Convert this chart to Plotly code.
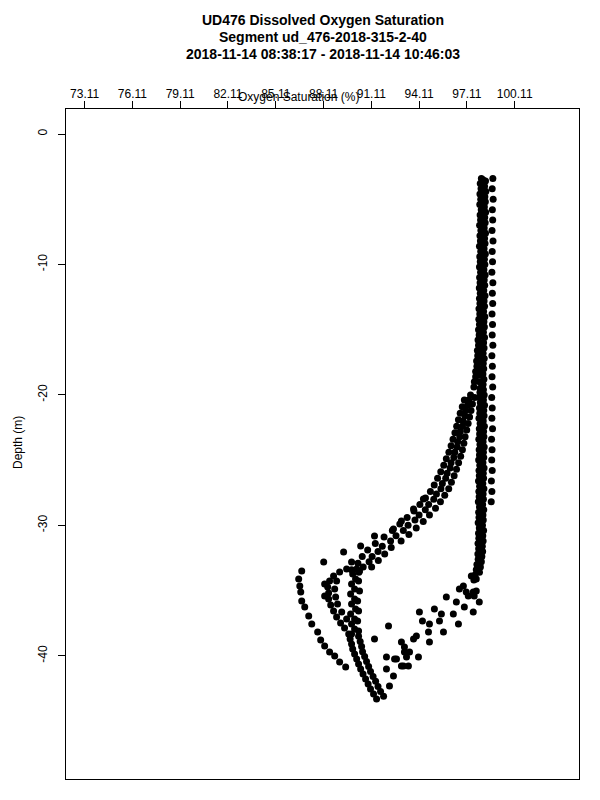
import plotly.graph_objects as go

# ---------------- data ----------------
x_tick_vals = [73.11, 76.11, 79.11, 82.11, 85.11, 88.11, 91.11, 94.11, 97.11, 100.11]
x_tick_text = ["73.11", "76.11", "79.11", "82.11", "85.11", "88.11", "91.11", "94.11", "97.11", "100.11"]
y_tick_vals = [0, -10, -20, -30, -40]
y_tick_text = ["0", "-10", "-20", "-30", "-40"]

# upper column, left part
col_a_depth = [-3.4, -3.8, -4.2, -4.6, -5.0, -5.4, -5.8, -6.2, -6.6, -7.0, -7.4, -7.8, -8.2, -8.6,
               -9.0, -9.4, -9.8, -10.2, -10.6, -11.0, -11.4, -11.8, -12.2, -12.6, -13.0, -13.4,
               -13.8, -14.2, -14.6, -15.0, -15.4, -15.8, -16.2, -16.6, -17.0, -17.4, -17.8,
               -18.2, -18.6, -19.0, -19.4]
col_a_oxy = [98.02, 97.95, 98.00, 97.93, 97.98, 97.92, 98.01, 97.94, 97.97, 97.91, 97.99, 97.93,
             97.96, 97.90, 97.98, 97.92, 97.95, 97.90, 97.97, 97.91, 97.94, 97.89, 97.95, 97.90,
             97.93, 97.87, 97.92, 97.86, 97.90, 97.84, 97.88, 97.81, 97.84, 97.77, 97.79, 97.72,
             97.74, 97.66, 97.66, 97.58, 97.55]

# upper column, right part
col_b_depth = [-3.6, -4.0, -4.4, -4.8, -5.2, -5.6, -6.0, -6.4, -6.8, -7.2, -7.6, -8.0, -8.4, -8.8,
               -9.2, -9.6, -10.0, -10.4, -10.8, -11.2, -11.6, -12.0, -12.4, -12.8, -13.2, -13.6,
               -14.0, -14.4, -14.8, -15.2, -15.6, -16.0, -16.4, -16.8, -17.2, -17.6, -18.0,
               -18.4, -18.8, -19.2, -19.6]
col_b_oxy = [98.28, 98.22, 98.30, 98.24, 98.27, 98.21, 98.29, 98.23, 98.26, 98.20, 98.28, 98.22,
             98.25, 98.19, 98.27, 98.21, 98.24, 98.18, 98.26, 98.20, 98.23, 98.17, 98.25, 98.19,
             98.22, 98.16, 98.24, 98.18, 98.21, 98.15, 98.22, 98.16, 98.19, 98.13, 98.20, 98.14,
             98.17, 98.12, 98.18, 98.13, 98.15]

# upper column, middle
col_c_depth = [-3.5, -4.0, -4.5, -5.0, -5.5, -6.0, -6.5, -7.0, -7.5, -8.0, -8.5, -9.0, -9.5, -10.0,
               -10.5, -11.0, -11.5, -12.0, -12.5, -13.0, -13.5, -14.0, -14.5, -15.0, -15.5, -16.0,
               -16.5, -17.0, -17.5, -18.0, -18.5, -19.0, -19.5]
col_c_oxy = [98.12, 98.08, 98.14, 98.07, 98.11, 98.06, 98.13, 98.09, 98.10, 98.05, 98.12, 98.07,
             98.10, 98.04, 98.11, 98.06, 98.09, 98.03, 98.08, 98.04, 98.07, 98.01, 98.06, 98.00,
             98.04, 97.97, 98.02, 97.95, 98.00, 97.92, 97.97, 97.90, 97.94]

# sparse right-edge samples
edge_depth = [-3.4, -4.2, -5.0, -5.8, -6.6, -7.4, -8.2, -9.0, -9.8, -10.6, -11.4, -12.2, -13.0,
              -13.8, -14.6, -15.4, -16.2, -17.0, -17.8, -18.6, -19.4, -20.2, -21.0, -21.8, -22.6,
              -23.4, -24.2, -25.0, -25.8, -26.6, -27.4, -28.2]
edge_oxy = [98.74, 98.70, 98.76, 98.71, 98.73, 98.69, 98.75, 98.70, 98.72, 98.68, 98.74, 98.71,
            98.73, 98.69, 98.72, 98.70, 98.74, 98.68, 98.71, 98.69, 98.73, 98.67, 98.70, 98.68,
            98.72, 98.66, 98.69, 98.67, 98.70, 98.65, 98.68, 98.64]

# lower column (stays near saturation down to ~34 m)
rcol_a_depth = [-19.8, -20.2, -20.6, -21.0, -21.4, -21.8, -22.2, -22.6, -23.0, -23.4, -23.8, -24.2,
                -24.6, -25.0, -25.4, -25.8, -26.2, -26.6, -27.0, -27.4, -27.8, -28.2, -28.6, -29.0,
                -29.4, -29.8, -30.2, -30.6, -31.0, -31.4, -31.8, -32.2, -32.6, -33.0, -33.4,
                -33.8, -34.2]
rcol_a_oxy = [97.93, 97.88, 97.95, 97.90, 97.92, 97.87, 97.94, 97.89, 97.91, 97.86, 97.93, 97.88,
              97.90, 97.85, 97.92, 97.87, 97.89, 97.84, 97.91, 97.86, 97.88, 97.83, 97.90, 97.85,
              97.87, 97.82, 97.89, 97.84, 97.86, 97.81, 97.85, 97.80, 97.82, 97.74, 97.70, 97.62,
              97.55]
rcol_b_depth = [-20.0, -20.4, -20.8, -21.2, -21.6, -22.0, -22.4, -22.8, -23.2, -23.6, -24.0, -24.4,
                -24.8, -25.2, -25.6, -26.0, -26.4, -26.8, -27.2, -27.6, -28.0, -28.4, -28.8, -29.2,
                -29.6, -30.0, -30.4, -30.8, -31.2, -31.6, -32.0, -32.4, -32.8, -33.2, -33.6]
rcol_b_oxy = [98.20, 98.15, 98.22, 98.17, 98.19, 98.14, 98.21, 98.16, 98.18, 98.13, 98.20, 98.15,
              98.17, 98.12, 98.19, 98.14, 98.16, 98.11, 98.18, 98.13, 98.15, 98.10, 98.17, 98.12,
              98.14, 98.09, 98.16, 98.11, 98.13, 98.08, 98.10, 98.05, 98.02, 97.96, 97.90]

# band bending to lower saturation (middle line)
band_mid_depth = [-20.0, -20.4, -20.8, -21.2, -21.6, -22.0, -22.4, -22.8, -23.2, -23.6, -24.0,
                  -24.4, -24.8, -25.2, -25.6, -26.0, -26.4, -26.8, -27.2, -27.6, -28.0, -28.4,
                  -28.8, -29.2, -29.6, -30.0, -30.4, -30.8, -31.2, -31.6, -32.0, -32.4, -32.8,
                  -33.2, -33.6]
band_mid_oxy = [97.34, 97.22, 97.16, 97.03, 96.99, 96.87, 96.83, 96.70, 96.66, 96.53, 96.50,
                96.35, 96.29, 96.12, 96.06, 95.87, 95.78, 95.57, 95.48, 95.20, 95.03, 94.71,
                94.50, 94.11, 93.85, 93.42, 93.12, 92.66, 92.32, 91.80, 91.53, 91.16, 90.97,
                90.60, 90.33]

band_in_depth = [-20.2, -20.7, -21.2, -21.7, -22.2, -22.7, -23.2, -23.7, -24.2, -24.7, -25.2,
                 -25.7, -26.2, -26.7, -27.2, -27.7, -28.2, -28.7, -29.2, -29.7, -30.2, -30.7,
                 -31.2, -31.7, -32.2, -32.7, -33.2]
band_in_oxy = [97.60, 97.46, 97.37, 97.28, 97.19, 97.10, 97.00, 96.92, 96.83, 96.72, 96.59,
               96.46, 96.31, 96.14, 95.97, 95.72, 95.45, 95.14, 94.76, 94.37, 93.93, 93.47,
               92.98, 92.36, 91.95, 91.55, 91.13]

band_out_depth = [-20.4, -20.9, -21.4, -21.9, -22.4, -22.9, -23.4, -23.9, -24.4, -24.9, -25.4,
                  -25.9, -26.4, -26.9, -27.4, -27.9, -28.4, -28.9, -29.4, -29.9, -30.4, -30.9,
                  -31.4, -31.9, -32.4, -32.9, -33.4]
band_out_oxy = [96.95, 96.82, 96.69, 96.58, 96.47, 96.36, 96.24, 96.12, 95.98, 95.82, 95.66,
                95.47, 95.27, 95.06, 94.82, 94.51, 94.16, 93.79, 93.36, 92.90, 92.43, 91.91,
                91.36, 90.88, 90.54, 90.27, 89.87]

# hook on the low-saturation side
hook_depth = [-33.35, -33.58, -33.89, -34.27, -34.73, -35.19, -35.65, -36.11, -36.57, -37.03,
              -37.49, -37.87, -34.27, -34.88, -35.49, -36.03, -36.65, -37.18, -34.50, -35.42]
hook_oxy = [89.56, 89.12, 88.74, 88.49, 88.37, 88.43, 88.43, 88.56, 88.74, 88.93,
            89.18, 89.43, 88.93, 88.81, 88.87, 88.99, 89.25, 89.56, 88.18, 88.18]

# vertical part of the band below the hook
stem_depth = [-33.35, -33.73, -34.12, -34.50, -34.88, -35.27, -35.65, -36.03, -36.42, -36.80,
              -37.18, -37.56, -37.95, -38.33, -33.50, -34.27, -35.04, -35.80, -36.57, -37.34,
              -38.10]
stem_oxy = [90.19, 89.94, 90.12, 89.87, 90.06, 89.81, 90.06, 89.87, 90.12, 89.81,
            90.06, 89.87, 90.06, 89.87, 90.37, 90.31, 90.37, 90.25, 90.31, 90.25, 90.31]

# lower band down to the deepest samples
low_left_depth = [-38.33, -38.72, -39.10, -39.48, -39.86, -40.25, -40.63, -41.01, -41.39, -41.78,
                  -42.16, -42.55, -42.93, -43.31]
low_left_oxy = [89.69, 89.78, 89.87, 89.94, 90.06, 90.19, 90.31, 90.44, 90.59, 90.75,
                90.91, 91.06, 91.25, 91.44]
low_right_depth = [-38.50, -38.90, -39.30, -39.70, -40.05, -40.45, -40.82, -41.20, -41.60, -41.95,
                   -42.35, -42.75, -43.10]
low_right_oxy = [90.31, 90.41, 90.50, 90.56, 90.69, 90.81, 90.94, 91.06, 91.22, 91.38,
                 91.53, 91.69, 91.88]

# sparse outer cast
outer_depth = [-27.98, -28.75, -29.67, -30.28, -30.82, -31.59, -32.05, -32.81, -33.50, -34.12,
               -34.65, -35.12, -35.80, -36.26, -36.95, -37.56, -38.18, -38.79, -39.26, -39.71,
               -40.02, -40.48, -40.87, -32.81]
outer_oxy = [94.38, 93.76, 93.00, 92.50, 91.31, 90.44, 89.37, 88.12, 86.74, 86.55,
             86.62, 86.68, 86.74, 86.93, 87.18, 87.37, 87.74, 87.93, 88.18, 88.49,
             88.81, 89.12, 89.50, 89.87]

# scattered return branch towards the saturated column
return_depth = [-42.32, -41.55, -41.01, -40.79, -40.79, -40.79, -40.25, -40.25, -40.09, -40.09,
                -40.09, -39.71, -39.71, -39.33, -38.95, -38.95, -38.72, -38.72, -38.49, -38.18,
                -38.18, -37.72, -37.56, -37.56, -37.34, -37.34, -36.80, -36.80, -36.65, -36.42,
                -35.88, -35.49, -34.12, -33.89, -34.65, -34.88, -35.42, -35.42, -35.04, -35.12,
                -35.12, -35.88, -36.26, -36.65]
return_oxy = [92.25, 92.50, 92.06, 93.00, 93.13, 93.44, 92.57, 92.69, 92.06, 93.32,
              94.07, 93.19, 93.51, 93.19, 93.00, 94.76, 93.76, 91.31, 93.94, 94.70,
              95.64, 92.19, 94.76, 96.58, 94.32, 95.39, 95.51, 96.26, 94.13, 95.07,
              96.45, 95.82, 97.70, 97.39, 96.89, 96.64, 97.20, 97.57, 97.70, 97.07,
              97.51, 97.89, 96.95, 97.51]

series = [
    (col_a_oxy, col_a_depth), (col_b_oxy, col_b_depth), (col_c_oxy, col_c_depth),
    (edge_oxy, edge_depth), (rcol_a_oxy, rcol_a_depth), (rcol_b_oxy, rcol_b_depth),
    (band_mid_oxy, band_mid_depth), (band_in_oxy, band_in_depth), (band_out_oxy, band_out_depth),
    (hook_oxy, hook_depth), (stem_oxy, stem_depth), (low_left_oxy, low_left_depth),
    (low_right_oxy, low_right_depth), (outer_oxy, outer_depth), (return_oxy, return_depth),
]

# ---------------- figure ----------------
FONT = "Liberation Sans, Arial, Helvetica, sans-serif"
fig = go.Figure()
for ox, dp in series:
    fig.add_trace(go.Scatter(x=ox, y=dp, mode="markers",
                             marker=dict(color="black", size=7, line=dict(width=0)),
                             showlegend=False, hoverinfo="skip"))

L, R, T, B = 58, 29, 101, 29
W, H = 600, 800
pw, ph = W - L - R, H - T - B

def px_x(px):
    return (px - L) / pw

def px_y(py):
    return (H - B - py) / ph

fig.update_layout(
    width=W, height=H,
    margin=dict(l=L, r=R, t=T, b=B, autoexpand=False),
    paper_bgcolor="white", plot_bgcolor="white",
    font=dict(family=FONT, size=12, color="black"),
    xaxis=dict(range=[71.94, 104.15], side="top", tickvals=x_tick_vals, ticktext=x_tick_text,
               ticks="outside", ticklen=7, tickwidth=1, tickcolor="black", automargin=False,
               ticklabelstandoff=-2,
               showline=True, linecolor="black", linewidth=1, mirror=True,
               showgrid=False, zeroline=False, tickfont=dict(size=12)),
    yaxis=dict(range=[-49.45, 1.92], tickvals=y_tick_vals, ticktext=y_tick_text, tickangle=-90,
               ticks="outside", ticklen=7, tickwidth=1, tickcolor="black", automargin=False,
               ticklabelstandoff=6,
               showline=True, linecolor="black", linewidth=1, mirror=True,
               showgrid=False, zeroline=False, tickfont=dict(size=12)),
)

titles = ["UD476 Dissolved Oxygen Saturation", "Segment ud_476-2018-315-2-40",
          "2018-11-14 08:38:17 - 2018-11-14 10:46:03"]
for i, t in enumerate(titles):
    fig.add_annotation(text="<b>" + t + "</b>", xref="paper", yref="paper",
                       x=0.5, y=px_y(12 + 17 * i), xanchor="center", yanchor="middle",
                       showarrow=False, font=dict(size=14, family=FONT))

fig.add_annotation(text="Oxygen Saturation (%)", xref="paper", yref="paper",
                   x=px_x(290), y=px_y(89), xanchor="center", yanchor="middle",
                   showarrow=False, font=dict(size=12, family=FONT))
fig.add_annotation(text="Depth (m)", xref="paper", yref="paper", textangle=-90,
                   x=px_x(10), y=px_y(435), xanchor="center", yanchor="middle",
                   showarrow=False, font=dict(size=12, family=FONT))

fig.write_html("out.html")
